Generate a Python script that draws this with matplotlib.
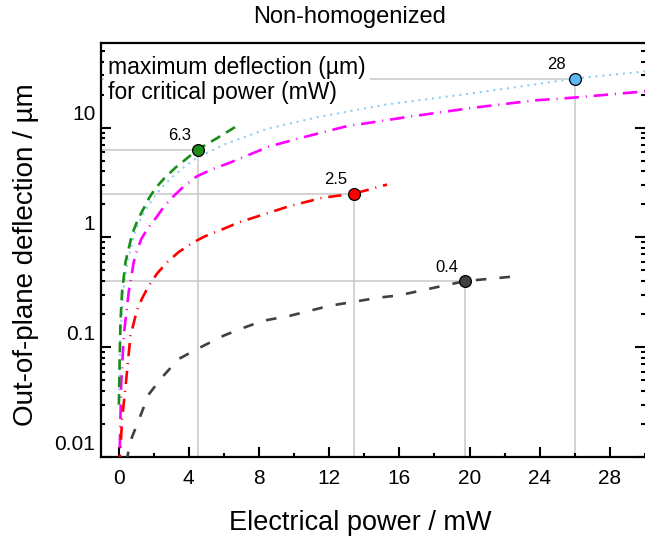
import matplotlib
matplotlib.use("Agg")
import matplotlib.pyplot as plt
import matplotlib.transforms as mtransforms
from matplotlib.ticker import MultipleLocator, LogLocator, FuncFormatter, NullFormatter

plt.rcParams['font.family'] = ['Liberation Sans', 'DejaVu Sans']

# deflection curves: power (mW) vs out-of-plane deflection (um)
green_x = [0.02, 0.07, 0.11, 0.2, 0.4, 0.78, 1.1, 1.44, 1.75, 2.1, 2.6, 3.23, 3.8, 4.5, 5.6, 6.72]
green_y = [0.03, 0.09, 0.17, 0.32, 0.6, 1.08, 1.45, 1.85, 2.3, 2.8, 3.45, 4.3, 5.1, 6.3, 8.0, 10.3]

blue_x = [0.03, 0.1, 0.25, 0.5, 1.0, 1.5, 2.0, 2.5, 3.1, 3.8, 4.46, 6.0, 8.5, 11.6, 15.2, 19.6, 23.0, 26.0, 30.0]
blue_y = [0.035, 0.12, 0.3, 0.6, 1.2, 1.75, 2.3, 2.9, 3.6, 4.45, 5.3, 7.0, 9.8, 12.7, 16.2, 20.0, 23.8, 28.0, 32.5]

magenta_x = [0.07, 0.15, 0.3, 0.58, 0.87, 1.0, 1.3, 1.65, 2.19, 2.6, 3.13, 3.7, 4.46, 5.3, 6.35, 8.6, 10.7,
             13.0, 16.45, 20.1, 23.7, 26.0, 30.0]
magenta_y = [0.012, 0.045, 0.13, 0.32, 0.6, 0.72, 0.97, 1.2, 1.55, 1.92, 2.37, 2.9, 3.6, 4.15, 4.8, 6.75, 8.3,
             10.3, 12.5, 15.1, 17.7, 18.8, 21.4]

red_x = [0.04, 0.11, 0.2, 0.4, 0.68, 1.06, 1.35, 1.71, 2.2, 2.75, 3.4, 4.2, 4.9, 5.6, 6.91, 9.75, 11.63, 13.4, 15.3]
red_y = [0.008, 0.0118, 0.022, 0.044, 0.127, 0.22, 0.28, 0.36, 0.47, 0.59, 0.73, 0.89, 1.02, 1.13, 1.38, 1.93,
         2.30, 2.5, 3.03]

black_x = [0.45, 0.68, 1.25, 1.71, 2.47, 3.42, 4.46, 5.97, 6.91, 8.23, 9.75, 12.0, 14.84, 16.0, 18.4, 19.75, 22.8]
black_y = [0.009, 0.014, 0.0238, 0.037, 0.053, 0.078, 0.096, 0.127, 0.146, 0.174, 0.193, 0.238, 0.283, 0.297,
           0.36, 0.4, 0.445]

# critical points: power (mW), max deflection (um)
crit_power = [4.5, 13.4, 19.75, 26.0]
crit_defl = [6.3, 2.5, 0.4, 28]
crit_text = ["6.3", "2.5", "0.4", "28"]
crit_color = ["#1a8c1a", "#ff0000", "#404040", "#5cb8f2"]

XMIN, XMAX = -1, 30
YMIN, YMAX = 0.01, 59

fig = plt.figure(figsize=(6.45, 5.36), dpi=100)
ax = fig.add_axes([101 / 645, 79 / 536, 544 / 645, 414 / 536])

# gray guide lines from each critical point to the axes
for px, py in zip(crit_power, crit_defl):
    ax.plot([px, px], [YMIN, py], color="#c8c8c8", lw=1.1, zorder=1)
    ax.plot([XMIN, px], [py, py], color="#c8c8c8", lw=1.1, zorder=1)

ax.plot(blue_x, blue_y, color="#8fcff5", lw=1.5, ls=(0, (1, 2.3)), zorder=3)
ax.plot(magenta_x, magenta_y, color="#ff00ff", lw=1.9, ls=(0, (5.5, 2.6, 0.4, 2.6)), zorder=3)
ax.plot(green_x, green_y, color="#1a8c1a", lw=1.9, ls=(0, (4, 2.6)), zorder=3)
ax.plot(red_x, red_y, color="#ff0000", lw=1.9, ls=(0, (5, 2.6, 0.4, 2.6)), zorder=3)
ax.plot(black_x, black_y, color="#404040", lw=1.9, ls=(0, (4, 5)), zorder=3)

for px, py, t, c in zip(crit_power, crit_defl, crit_text, crit_color):
    ax.plot(px, py, "o", ms=8.5, mfc=c, mec="black", mew=0.9, zorder=5)
    ax.annotate(t, (px, py), xytext=(-18, 14), textcoords="offset pixels",
                ha="center", va="center", fontsize=12, zorder=6)

ax.text(0.013, 0.968, "maximum deflection (µm)\nfor critical power (mW)",
        transform=ax.transAxes, ha="left", va="top", fontsize=16.5, linespacing=1.08,
        bbox=dict(facecolor="white", edgecolor="none", pad=3), zorder=2)

ax.set_xlim(XMIN, XMAX)
ax.set_yscale("log")
ax.set_ylim(YMIN, YMAX)

ax.xaxis.set_major_locator(MultipleLocator(4))
ax.xaxis.set_minor_locator(MultipleLocator(2))
ax.yaxis.set_major_locator(LogLocator(base=10, numticks=10))
ax.yaxis.set_minor_locator(LogLocator(base=10, subs=range(2, 10), numticks=20))
ax.yaxis.set_major_formatter(FuncFormatter(lambda v, p: "%g" % v))
ax.yaxis.set_minor_formatter(NullFormatter())

ax.tick_params(which="both", direction="in", labelsize=15, width=1.5,
               top=False, right=True, left=True, bottom=True)
ax.tick_params(which="major", length=7)
ax.tick_params(which="minor", length=3)
ax.tick_params(axis="x", pad=9)
ax.tick_params(axis="y", pad=4)

for side in ["left", "bottom", "top"]:
    ax.spines[side].set_linewidth(1.6)
ax.spines["right"].set_visible(False)

ax.set_xlabel("Electrical power / mW", fontsize=19.5)
ax.set_ylabel("Out-of-plane deflection / µm", fontsize=20)
ax.xaxis.label.set_va("baseline")
ax.xaxis.set_label_coords(0.476, -0.176)
ax.yaxis.set_label_coords(-0.114, 0.49)

fig.text(350 / 645, 1 - 17 / 536, "Non-homogenized", ha="center", va="center", fontsize=17)

# y tick labels sit a bit above their ticks
fig.canvas.draw()
shift = mtransforms.ScaledTranslation(0, 0.15, fig.dpi_scale_trans)
for tick in ax.yaxis.get_major_ticks():
    tick.label1.set_transform(tick.label1.get_transform() + shift)

fig.savefig("out.png", dpi=100)
